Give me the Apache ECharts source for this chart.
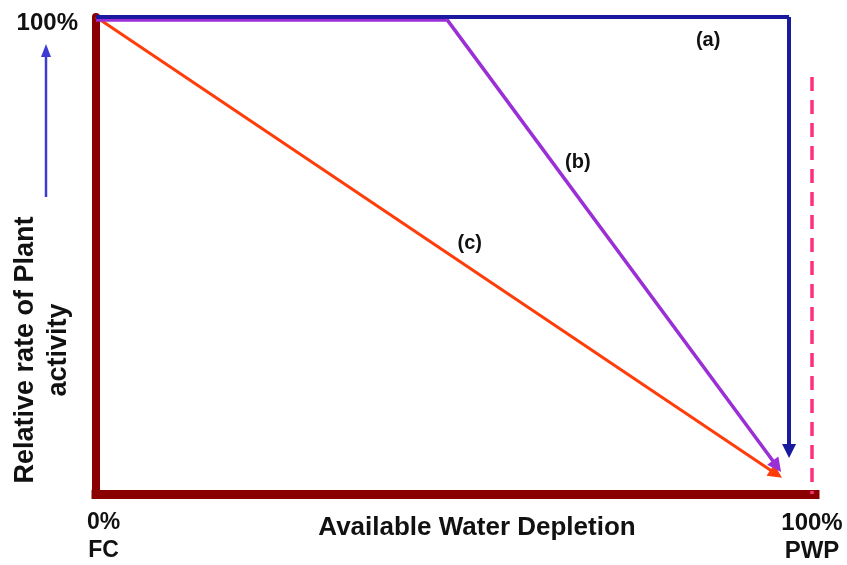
<!DOCTYPE html>
<html>
<head>
<meta charset="utf-8">
<title>Relative rate of plant activity</title>
<script src="https://cdn.jsdelivr.net/npm/echarts@6/dist/echarts.min.js"></script>
<style>
  html, body { margin: 0; padding: 0; background: #fff; }
  #main { width: 847px; height: 565px; }
</style>
</head>
<body>
<div id="main"></div>
<script>
// tick labels
var xTicks = [0, 100]
    , xTickLabels = ['0%\nFC', '100%\nPWP']
    , yTicks = [100]
    , yTickLabels = ['100%'];

// curves: [depletion %, relative activity %], last point is where the arrow points
var curveA = [[0, 100], [96.8, 100], [96.8, 9.0]];
var curveB = [[0, 99.5], [49.0, 99.5], [95.1, 5.8]];
var curveC = [[0, 100], [95.0, 4.2]];
var pwpLine = [[100, 87.4], [100, 0]];

var curveNames = ['(a)', '(b)', '(c)'];
var curveLabelPos = [[85.5, 95.0], [67.3, 69.4], [52.2, 52.6]];

var FONT = 'Liberation Sans';

// turn a polyline into segments, arrow on the last one
function toSegments(pts) {
    var segs = [];
    for (var i = 0; i < pts.length - 1; i++) {
        segs.push({
            coords: [pts[i], pts[i + 1]],
            symbol: i == pts.length - 2 ? ['none', 'triangle'] : ['none', 'none']
        });
    }
    return segs;
}

function curveSeries(pts, color, width, z) {
    return {
        type: 'lines'
        , coordinateSystem: 'cartesian2d'
        , silent: true
        , z: z
        , symbolSize: [12, 14]
        , lineStyle: { color: color, width: width, opacity: 1, curveness: 0 }
        , data: toSegments(pts)
    };
}

var myChart = echarts.init(document.getElementById('main'));

var option = {
    backgroundColor: '#fff',
    animation: false,
    grid: { left: 96, right: 32, top: 17, bottom: 71 },
    xAxis: {
        type: 'value',
        min: 0,
        max: 100.42,
        interval: 100,
        axisLine: { onZero: false, lineStyle: { color: '#8a0000', width: 9, cap: 'square' } },
        axisTick: { show: false },
        splitLine: { show: false },
        axisLabel: {
            margin: 15,
            showMaxLabel: false,
            formatter: function (v) {
                var i = xTicks.indexOf(v);
                if (i < 0) return '';
                var parts = xTickLabels[i].split('\n');
                var k = i == 0 ? 'l' : 'r';
                return parts.map(function (p) { return '{' + k + '|' + p + '}'; }).join('\n');
            },
            rich: {
                l: { fontFamily: FONT, fontWeight: 'bold', fontSize: 23, color: '#111', lineHeight: 28, padding: [0, 0, 0, 15] },
                r: { fontFamily: FONT, fontWeight: 'bold', fontSize: 24, color: '#111', lineHeight: 28 }
            }
        }
    },
    yAxis: {
        type: 'value',
        min: 0,
        max: 100,
        interval: 100,
        axisLine: { lineStyle: { color: '#8a0000', width: 8 } },
        axisTick: { show: false },
        splitLine: { show: false },
        axisLabel: {
            margin: 18,
            formatter: function (v) {
                var i = yTicks.indexOf(v);
                return i < 0 ? '' : '{c|' + yTickLabels[i] + '}';
            },
            rich: {
                c: { fontFamily: FONT, fontWeight: 'bold', fontSize: 24, color: '#111', padding: [13, 0, 0, 0] }
            }
        }
    },
    series: [
        curveSeries(curveC, '#ff3d0a', 3, 3),
        curveSeries(curveB, '#9b2fd6', 3.5, 4),
        curveSeries(curveA, '#1a1a9e', 4, 5),
        {
            type: 'lines'
            , coordinateSystem: 'cartesian2d'
            , silent: true
            , z: 6
            , lineStyle: { color: '#ff2f7f', width: 3.5, type: [14, 9], opacity: 1 }
            , data: [{ coords: pwpLine }]
        },
        {
            type: 'scatter'
            , silent: true
            , symbolSize: 0
            , z: 7
            , itemStyle: { opacity: 1 }
            , label: {
                show: true,
                position: 'inside',
                formatter: function (p) { return curveNames[p.dataIndex]; },
                fontFamily: FONT,
                fontWeight: 'bold',
                fontSize: 20,
                color: '#111',
                opacity: 1
            }
            , data: curveLabelPos
        }
    ],
    graphic: [
        {
            type: 'text',
            x: 477, y: 528,
            style: {
                text: 'Available Water Depletion',
                font: 'bold 26px "' + FONT + '"',
                fill: '#111',
                align: 'center',
                verticalAlign: 'middle'
            }
        },
        {
            type: 'text',
            x: 42, y: 350,
            rotation: Math.PI / 2,
            style: {
                text: 'Relative rate of Plant\nactivity',
                font: 'bold 27px "' + FONT + '"',
                fill: '#111',
                align: 'center',
                verticalAlign: 'middle',
                lineHeight: 33
            }
        },
        {
            type: 'line',
            shape: { x1: 46, y1: 197, x2: 46, y2: 54 },
            style: { stroke: '#3c3cd2', lineWidth: 2.5 }
        },
        {
            type: 'polygon',
            shape: { points: [[46, 44], [41, 57], [51, 57]] },
            style: { fill: '#3c3cd2' }
        }
    ]
};

myChart.setOption(option);
</script>
</body>
</html>
